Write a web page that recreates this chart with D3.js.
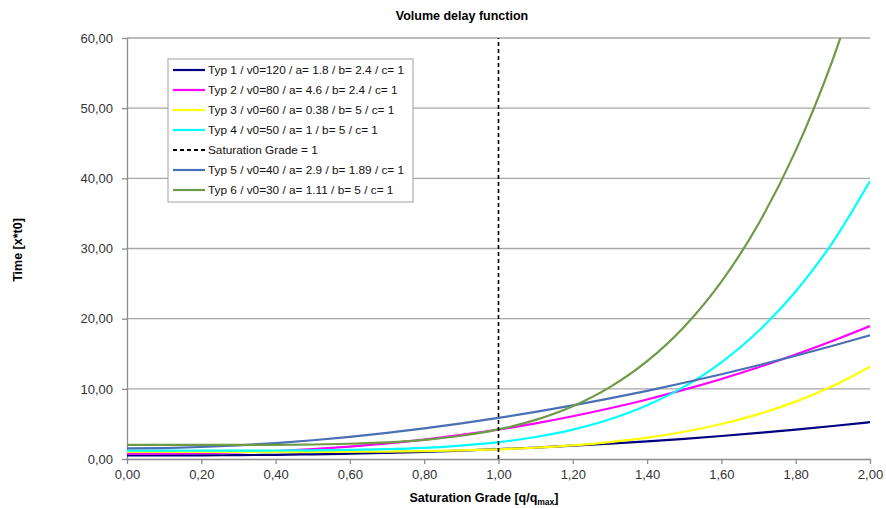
<!DOCTYPE html>
<html>
  <head>
    <style>
      body { margin: 0; background: #fff; }
      svg { font-family: "Liberation Sans", Arial, sans-serif; }
      .chart-title { font-size: 12.5px; font-weight: bold; text-anchor: middle; }
      .axis-title { font-size: 12.5px; font-weight: bold; }
      .tick text { font-size: 13px; fill: #333; }
      .legend-text { font-size: 11.8px; fill: #111; }
      .grid line { stroke: #a6a6a6; stroke-width: 1.3; }
      .curve { fill: none; stroke-width: 2.2; }
    </style>
  </head>
  <body>
    <script src="https://d3js.org/d3.v7.min.js"></script>
    <svg width="886" height="508"></svg>
    <script>
      // saturation grade samples
      const grade = [0, 0.1, 0.2, 0.3, 0.4, 0.5, 0.6, 0.7, 0.8, 0.9, 1.0,
                     1.1, 1.2, 1.3, 1.4, 1.5, 1.6, 1.7, 1.8, 1.9, 2.0];

      // time values per type
      const typ1 = [0.500, 0.504, 0.519, 0.550, 0.600, 0.671, 0.764, 0.882, 1.027, 1.199, 1.400,
                    1.631, 1.894, 2.189, 2.518, 2.882, 3.281, 3.716, 4.189, 4.700, 5.250];
      const typ2 = [0.750, 0.764, 0.823, 0.942, 1.133, 1.404, 1.763, 2.216, 2.769, 3.429, 4.200,
                    5.087, 6.094, 7.226, 8.486, 9.879, 11.409, 13.078, 14.891, 16.850, 18.959];
      const typ3 = [1.000, 1.000, 1.000, 1.001, 1.004, 1.012, 1.030, 1.064, 1.125, 1.224, 1.380,
                    1.612, 1.946, 2.411, 3.044, 3.886, 4.985, 6.396, 8.180, 10.409, 13.160];
      const typ4 = [1.200, 1.200, 1.200, 1.203, 1.212, 1.238, 1.293, 1.402, 1.593, 1.909, 2.400,
                    3.133, 4.186, 5.656, 7.654, 10.313, 13.783, 18.238, 23.875, 30.913, 39.600];
      const typ5 = [1.500, 1.556, 1.708, 1.947, 2.270, 2.674, 3.157, 3.717, 4.353, 5.065, 5.850,
                    6.709, 7.640, 8.642, 9.716, 10.861, 12.075, 13.359, 14.712, 16.133, 17.623];
      const typ6 = [2.000, 2.000, 2.001, 2.005, 2.023, 2.069, 2.173, 2.373, 2.727, 3.311, 4.220,
                    5.575, 7.524, 10.243, 13.940, 18.858, 25.278, 33.521, 43.948, 56.969, 73.040];

      const seriesNames = [
        "Typ 1 / v0=120 / a= 1.8 / b= 2.4 / c= 1",
        "Typ 2 / v0=80 / a= 4.6 / b= 2.4 / c= 1",
        "Typ 3 / v0=60 / a= 0.38 / b= 5 / c= 1",
        "Typ 4 / v0=50 / a= 1 / b= 5 / c= 1",
        "Typ 5 / v0=40 / a= 2.9 / b= 1.89 / c= 1",
        "Typ 6 / v0=30 / a= 1.11 / b= 5 / c= 1"
      ];
      const seriesColors = ["#000080", "#ff00ff", "#ffff00", "#00ffff", "#4a6fb5", "#6f9a45"];
      const seriesValues = [typ1, typ2, typ3, typ4, typ5, typ6];

      const saturationLabel = "Saturation Grade = 1";
      const saturationValue = 1;

      const xTicks = [0, 0.2, 0.4, 0.6, 0.8, 1.0, 1.2, 1.4, 1.6, 1.8, 2.0];
      const yTicks = [0, 10, 20, 30, 40, 50, 60];

      const margin = { top: 38, right: 16, bottom: 49, left: 127 };
      const width = 886 - margin.left - margin.right;
      const height = 508 - margin.top - margin.bottom;

      const svg = d3.select("svg");
      const g = svg.append("g").attr("transform", `translate(${margin.left},${margin.top})`);

      const x = d3.scaleLinear().domain([0, 2]).range([0, width]);
      const y = d3.scaleLinear().domain([0, 60]).range([height, 0]);
      const fmt = (d) => d3.format(".2f")(d).replace(".", ",");

      // clip so the curves stop at 60
      svg.append("defs").append("clipPath").attr("id", "plot-clip")
        .append("rect").attr("width", width).attr("height", height);

      // horizontal grid
      g.append("g")
        .attr("class", "grid")
        .selectAll("line")
        .data(yTicks.filter((d) => d > 0))
        .enter()
        .append("line")
        .attr("x1", 0)
        .attr("x2", width)
        .attr("y1", (d) => y(d))
        .attr("y2", (d) => y(d));

      // axes
      const xAxis = g.append("g")
        .attr("transform", `translate(0,${height})`)
        .call(d3.axisBottom(x).tickValues(xTicks).tickFormat(fmt).tickSize(5).tickSizeOuter(0));
      const yAxis = g.append("g")
        .call(d3.axisLeft(y).tickValues(yTicks).tickFormat(fmt).tickSize(5).tickSizeOuter(0));
      [xAxis, yAxis].forEach((a) => {
        a.select(".domain").attr("stroke", "#8c8c8c").attr("stroke-width", 1.3);
        a.selectAll(".tick line").attr("stroke", "#8c8c8c").attr("stroke-width", 1.3);
      });
      xAxis.selectAll(".tick text").attr("y", 11).attr("dy", "0.71em");
      yAxis.selectAll(".tick text").attr("x", -14);

      // curves
      const line = d3.line()
        .x((d, i) => x(grade[i]))
        .y((d) => y(d))
        .curve(d3.curveMonotoneX);

      const curves = g.append("g").attr("clip-path", "url(#plot-clip)");
      seriesValues.forEach((vals, i) => {
        curves.append("path")
          .datum(vals)
          .attr("class", "curve")
          .attr("stroke", seriesColors[i])
          .attr("d", line);
      });

      // saturation grade = 1
      g.append("line")
        .attr("x1", x(saturationValue))
        .attr("x2", x(saturationValue))
        .attr("y1", y(0))
        .attr("y2", y(60))
        .attr("stroke", "#000")
        .attr("stroke-width", 1.6)
        .attr("stroke-dasharray", "4,3");

      // titles
      svg.append("text")
        .attr("class", "chart-title")
        .attr("x", 462)
        .attr("y", 20)
        .text("Volume delay function");

      const xt = svg.append("text")
        .attr("class", "axis-title")
        .attr("text-anchor", "middle")
        .attr("x", 484)
        .attr("y", 502);
      xt.append("tspan").text("Saturation Grade [q/q");
      xt.append("tspan").attr("font-size", "8.5px").attr("dy", 3).text("max");
      xt.append("tspan").attr("dy", -3).text("]");

      svg.append("text")
        .attr("class", "axis-title")
        .attr("text-anchor", "middle")
        .attr("transform", "translate(22,250) rotate(-90)")
        .text("Time [x*t0]");

      // legend
      const legendItems = seriesNames.slice(0, 4).map((n, i) => ({ name: n, color: seriesColors[i], dash: null }))
        .concat([{ name: saturationLabel, color: "#000", dash: "4,3" }])
        .concat(seriesNames.slice(4).map((n, i) => ({ name: n, color: seriesColors[i + 4], dash: null })));

      const legend = svg.append("g").attr("transform", "translate(168,59)");
      legend.append("rect")
        .attr("width", 245)
        .attr("height", 143)
        .attr("fill", "#fff")
        .attr("stroke", "#a0a0a0")
        .attr("stroke-width", 1);

      legendItems.forEach((d, i) => {
        const row = legend.append("g").attr("transform", `translate(0,${11 + i * 20})`);
        row.append("line")
          .attr("x1", 5)
          .attr("x2", 37)
          .attr("stroke", d.color)
          .attr("stroke-width", 2.2)
          .attr("stroke-dasharray", d.dash);
        row.append("text")
          .attr("class", "legend-text")
          .attr("x", 40)
          .attr("dy", "0.35em")
          .text(d.name);
      });
    </script>
  </body>
</html>
